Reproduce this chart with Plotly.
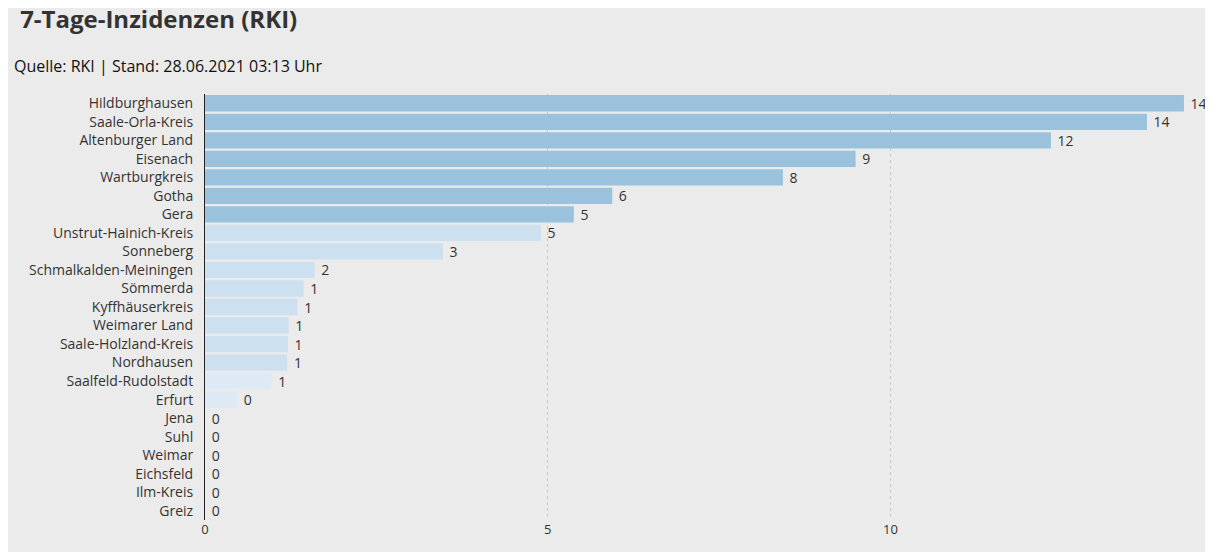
import plotly.graph_objects as go

regions = ["Hildburghausen","Saale-Orla-Kreis","Altenburger Land","Eisenach","Wartburgkreis","Gotha","Gera",
           "Unstrut-Hainich-Kreis","Sonneberg","Schmalkalden-Meiningen","Sömmerda","Kyffhäuserkreis",
           "Weimarer Land","Saale-Holzland-Kreis","Nordhausen","Saalfeld-Rudolstadt","Erfurt",
           "Jena","Suhl","Weimar","Eichsfeld","Ilm-Kreis","Greiz"]
values = [14.28,13.74,12.34,9.49,8.43,5.94,5.38,4.90,3.47,1.60,1.44,1.35,1.22,1.21,1.20,0.97,0.47,
          0,0,0,0,0,0]

def col(v):
    if v >= 5: return "#9bc2dd"
    if v >= 1: return "#cce0ef"
    return "#ddeaf5"

fig = go.Figure(go.Bar(
    y=regions, x=values, orientation="h",
    marker=dict(color=[col(v) for v in values], line=dict(width=0)),
    texttemplate=" %{x:.0f}", textposition="outside", cliponaxis=False, constraintext="none",
    textfont=dict(size=14, color="#333"), width=0.88,
))
fig.update_layout(
    width=1213, height=552, paper_bgcolor="#ebebeb", plot_bgcolor="#ebebeb",
    font=dict(family="Open Sans", size=14, color="#333"),
    margin=dict(l=197, r=0, t=86, b=40),
    showlegend=False,
    title=dict(text="<b>7-Tage-Inzidenzen (RKI)</b>", x=0.01, xanchor="left", y=0.995, yanchor="top",
               font=dict(size=24, color="#333")),
    annotations=[dict(text="Quelle: RKI | Stand: 28.06.2021 03:13 Uhr", xref="paper", yref="paper",
                      x=-0.19, y=1.035, xanchor="left", yanchor="bottom", showarrow=False,
                      font=dict(size=16, color="#111"))],
)
fig.update_xaxes(range=[0, 14.82], tickvals=[0,5,10,15], showgrid=True, gridcolor="#c8c8c8",
                 griddash="dot", zeroline=False, ticks="", tickfont=dict(size=13))
fig.update_yaxes(autorange="reversed", showline=True, linecolor="#222", linewidth=1, ticks="",
                 ticklabelstandoff=8, tickfont=dict(size=14))
fig.write_html("out.html")
